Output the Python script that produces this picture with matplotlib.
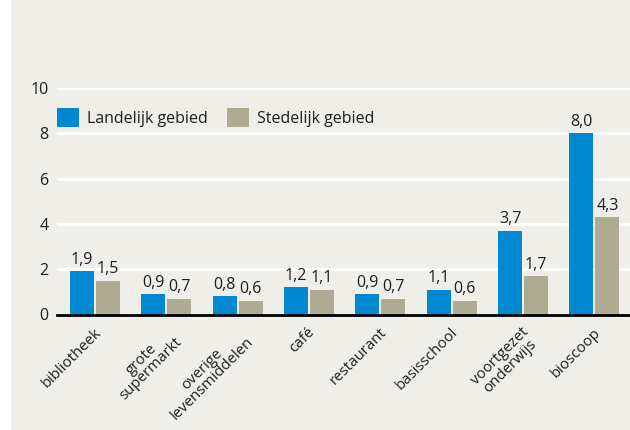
import matplotlib.pyplot as plt
import matplotlib.transforms as mtransforms
import numpy as np

plt.rcParams['font.family'] = ['Open Sans', 'DejaVu Sans']

categories = ['bibliotheek', 'grote\nsupermarkt', 'overige\nlevensmiddelen', 'café',
              'restaurant', 'basisschool', 'voortgezet\nonderwijs', 'bioscoop']
landelijk = [1.9, 0.9, 0.8, 1.2, 0.9, 1.1, 3.7, 8.0]
stedelijk = [1.5, 0.7, 0.6, 1.1, 0.7, 0.6, 1.7, 4.3]
yticks = [0, 2, 4, 6, 8, 10]

bg = '#efeee8'
blue = '#0088d1'
grey = '#afab93'
txt = '#1e1e1e'
fs = 11.5

W, H = 630, 430
fig = plt.figure(figsize=(W / 100, H / 100), dpi=100)
fig.patch.set_facecolor('white')
# beige panel, small white strip on the left
fig.patches.append(plt.Rectangle((11 / W, 0), 1, 1, transform=fig.transFigure,
                                 facecolor=bg, edgecolor='none', zorder=-10))

ax = fig.add_axes([57 / W, (H - 314.5) / H, 1 - 57 / W, (314.5 - 88) / H])
ax.patch.set_alpha(0)

x = np.arange(len(categories))
w = 0.337
off = 0.182
b1 = ax.bar(x - off, landelijk, w, color=blue, label='Landelijk gebied', zorder=3)
b2 = ax.bar(x + off, stedelijk, w, color=grey, label='Stedelijk gebied', zorder=3)

for bars, vals in ((b1, landelijk), (b2, stedelijk)):
    for r, v in zip(bars, vals):
        ax.annotate(f'{v:.1f}'.replace('.', ','), (r.get_x() + r.get_width() / 2, v),
                    xytext=(0, 2.5), textcoords='offset points', ha='center', va='bottom',
                    fontsize=fs, color=txt)

ax.set_xlim(-0.533, 7.5)
ax.set_ylim(0, 10)
ax.set_yticks(yticks)
ax.yaxis.grid(True, color='white', linewidth=2, zorder=0)
ax.set_axisbelow(True)
ax.tick_params(axis='y', length=0, pad=6, labelsize=fs, labelcolor=txt)
ax.tick_params(axis='x', length=0, pad=7.5, labelsize=10.8, labelcolor=txt)
for s in ['top', 'right', 'left']:
    ax.spines[s].set_visible(False)
ax.spines['bottom'].set_linewidth(2)
ax.spines['bottom'].set_color('black')
ax.spines['bottom'].set_zorder(5)

ax.set_xticks(x)
ax.set_xticklabels(categories, rotation=45, ha='right', rotation_mode='anchor',
                   multialignment='center', linespacing=0.85)
shift = mtransforms.ScaledTranslation(-1.5 / 100, 0, fig.dpi_scale_trans)
for lab in ax.get_xticklabels():
    lab.set_transform(lab.get_transform() + shift)

ax.legend(loc='upper left', bbox_to_anchor=(0, 0.91), ncol=2, frameon=False,
          fontsize=fs, handlelength=1.38, handleheight=1.38, handletextpad=0.5,
          columnspacing=1.2, borderaxespad=0, borderpad=0, labelcolor=txt)

fig.savefig('out.png', dpi=100, facecolor=fig.get_facecolor())
